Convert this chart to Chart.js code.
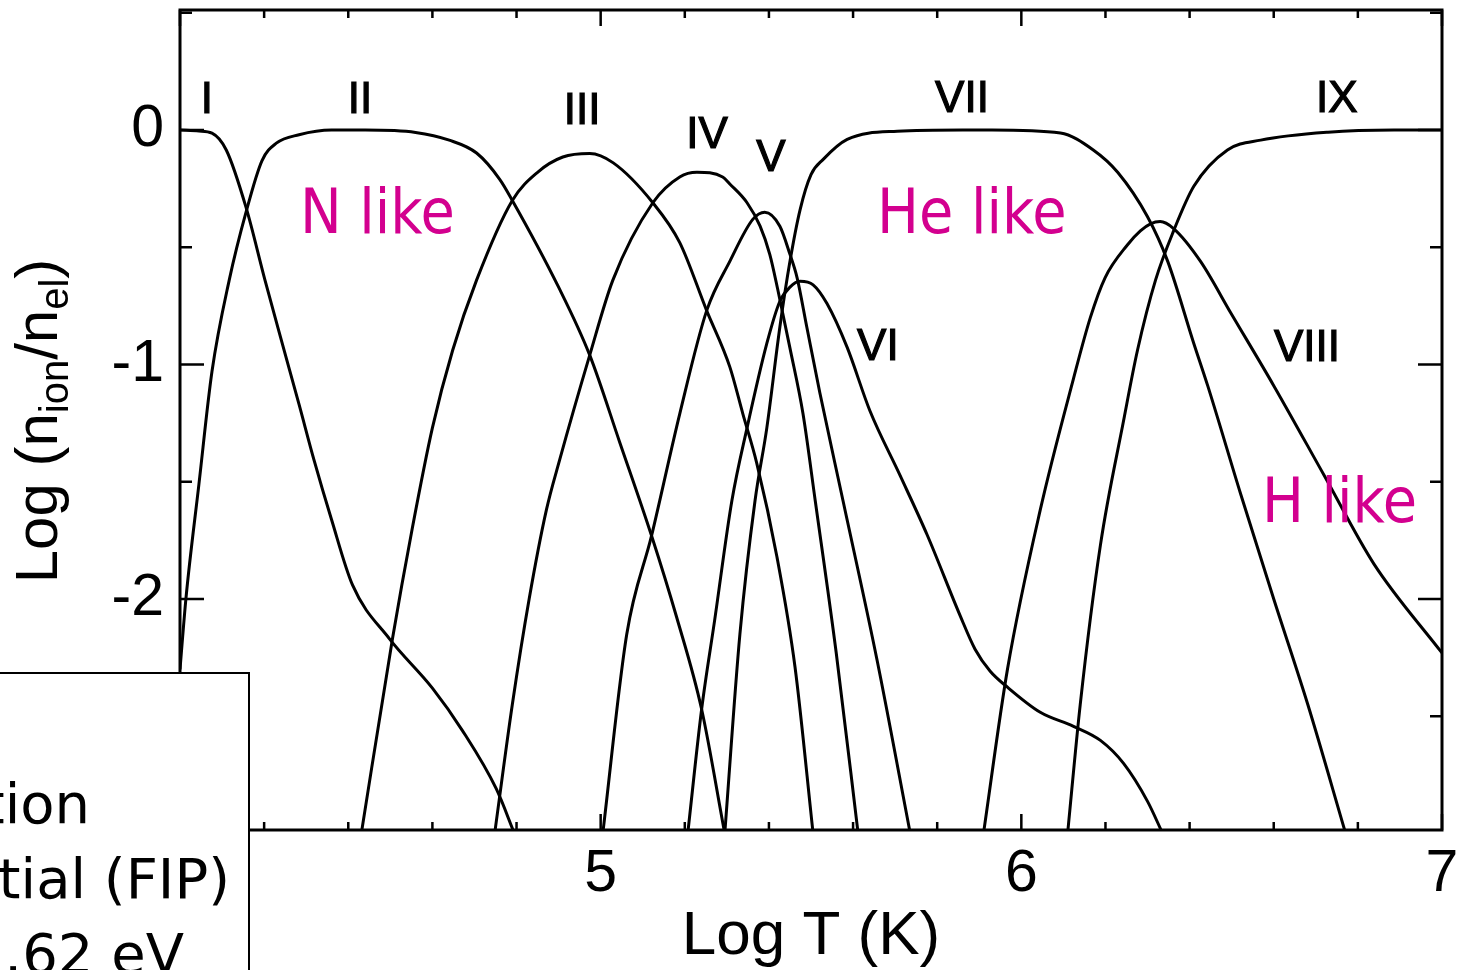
<!DOCTYPE html>
<html>
<head>
<meta charset="utf-8">
<title>Oxygen ionization fractions</title>
<script src="https://cdn.jsdelivr.net/npm/chart.js@4.4.1/dist/chart.umd.min.js"></script>
<style>
    html, body { margin: 0; padding: 0; background: #fff; overflow: hidden; }
    body { width: 1460px; height: 970px; position: relative; }
    #plot { position: absolute; left: 0; top: 0; }
    #fipBox { position: absolute; left: -10px; top: 672px; width: 256px; height: 310px; background: #fff; border: 2px solid #000; }
    .fip { position: absolute; font-family: "DejaVu Sans", sans-serif; font-size: 56px; line-height: 56px; white-space: nowrap; color: #000; }
</style>
</head>
<body>
<canvas id="plot" width="1460" height="970"></canvas>
<div id="fipBox"></div>
<div class="fip" style="right:1370px; top:776px;">First Ionization</div>
<div class="fip" style="right:1230px; top:851px;">Potential (FIP)</div>
<div class="fip" style="right:1276px; top:926px;">13.62 eV</div>

<script>
// ionization stages of oxygen, log T (K) against log(n_ion / n_el)
var stageNames = ['I', 'II', 'III', 'IV', 'V', 'VI', 'VII', 'VIII', 'IX'];

var tempI = [4.00, 4.045, 4.076, 4.11, 4.157, 4.202, 4.243, 4.283, 4.319, 4.36, 4.41, 4.498, 4.60, 4.671, 4.752, 4.795];
var fracI = [0.00, -0.004, -0.013, -0.085, -0.33, -0.64, -0.91, -1.17, -1.41, -1.66, -1.94, -2.17, -2.38, -2.56, -2.81, -3.00];

var tempII = [4.00, 4.014, 4.045, 4.076, 4.117, 4.157, 4.195, 4.229, 4.283, 4.36, 4.44, 4.56, 4.64, 4.705, 4.76, 4.79, 4.90, 4.974, 5.045, 5.121, 5.181, 5.24, 5.295];
var fracII = [-2.30, -2.00, -1.51, -1.03, -0.64, -0.35, -0.13, -0.056, -0.02, 0.00, 0.00, -0.01, -0.043, -0.098, -0.21, -0.30, -0.67, -0.96, -1.33, -1.73, -2.08, -2.47, -3.00];

var tempIII = [4.431, 4.505, 4.552, 4.60, 4.648, 4.705, 4.79, 4.85, 4.91, 4.974, 5.03, 5.124, 5.188, 5.252, 5.307, 5.338, 5.371, 5.419, 5.462, 5.505];
var fracIII = [-3.00, -2.17, -1.70, -1.27, -0.94, -0.64, -0.30, -0.18, -0.115, -0.10, -0.14, -0.31, -0.48, -0.77, -1.01, -1.21, -1.42, -1.82, -2.29, -3.00];

var tempIV = [4.748, 4.79, 4.83, 4.871, 4.902, 4.974, 5.029, 5.124, 5.188, 5.229, 5.29, 5.307, 5.348, 5.379, 5.402, 5.421, 5.45, 5.481, 5.51, 5.56, 5.612];
var fracIV = [-3.00, -2.45, -2.00, -1.62, -1.41, -0.96, -0.64, -0.31, -0.20, -0.18, -0.20, -0.23, -0.31, -0.41, -0.53, -0.68, -0.93, -1.21, -1.58, -2.23, -3.00];

var tempV = [5.005, 5.062, 5.121, 5.188, 5.252, 5.307, 5.362, 5.39, 5.426, 5.45, 5.467, 5.49, 5.521, 5.576, 5.657, 5.736];
var fracV = [-3.00, -2.15, -1.73, -1.21, -0.77, -0.56, -0.38, -0.35, -0.41, -0.53, -0.63, -0.84, -1.12, -1.58, -2.26, -3.00];

var tempVI = [5.207, 5.24, 5.271, 5.312, 5.348, 5.395, 5.426, 5.45, 5.474, 5.505, 5.538, 5.586, 5.64, 5.712, 5.776, 5.855, 5.89, 5.926, 5.967, 6.045, 6.124, 6.188, 6.243, 6.30, 6.336];
var fracVI = [-3.00, -2.47, -2.09, -1.58, -1.27, -0.91, -0.73, -0.67, -0.645, -0.66, -0.74, -0.927, -1.197, -1.474, -1.726, -2.073, -2.214, -2.308, -2.376, -2.483, -2.543, -2.603, -2.701, -2.863, -3.00];

var tempVII = [5.295, 5.331, 5.367, 5.395, 5.426, 5.45, 5.474, 5.50, 5.529, 5.586, 5.705, 5.86, 5.93, 6.093, 6.171, 6.229, 6.30, 6.348, 6.41, 6.443, 6.521, 6.60, 6.681, 6.771];
var fracVII = [-3.00, -2.15, -1.58, -1.27, -0.84, -0.56, -0.34, -0.19, -0.125, -0.04, -0.005, 0.00, 0.00, -0.013, -0.085, -0.18, -0.37, -0.56, -0.91, -1.09, -1.55, -2.00, -2.45, -3.00];

var tempVIII = [5.91, 5.967, 6.045, 6.124, 6.164, 6.199, 6.252, 6.283, 6.307, 6.33, 6.362, 6.426, 6.498, 6.60, 6.719, 6.838, 7.00];
var fracVIII = [-3.00, -2.30, -1.62, -1.06, -0.80, -0.63, -0.49, -0.43, -0.40, -0.39, -0.42, -0.56, -0.78, -1.09, -1.47, -1.85, -2.23];

var tempIX = [6.11, 6.14, 6.188, 6.243, 6.276, 6.319, 6.362, 6.41, 6.49, 6.569, 6.729, 6.886, 7.00];
var fracIX = [-3.00, -2.45, -1.77, -1.24, -0.94, -0.64, -0.43, -0.24, -0.085, -0.043, -0.009, 0.00, 0.00];

var tempTickLabels = [4, 5, 6, 7];
var fracTickLabels = [0, -1, -2];

// where the stage names and sequence names sit, in data units
var stageLabelT = [4.064, 4.428, 4.956, 5.253, 5.405, 5.659, 5.859, 6.679, 6.750];
var stageLabelY = [0.124, 0.124, 0.077, -0.025, -0.123, -0.929, 0.128, -0.934, 0.128];
var seqNames = ['N like', 'He like', 'H like'];
var seqLabelT = [4.285, 5.657, 6.572];
var seqLabelY = [-0.439, -0.439, -1.671];

var temps = [tempI, tempII, tempIII, tempIV, tempV, tempVI, tempVII, tempVIII, tempIX];
var fracs = [fracI, fracII, fracIII, fracIV, fracV, fracVI, fracVII, fracVIII, fracIX];

var datasets = stageNames.map(function (name, i) {
    return {
        label: name,
        data: temps[i].map(function (t, j) { return { x: t, y: fracs[i][j] }; }),
        borderColor: '#000',
        borderWidth: 3,
        pointRadius: 0,
        fill: false,
        cubicInterpolationMode: 'monotone'
    };
});

function isWhole(v) { return Math.abs(v - Math.round(v)) < 1e-6; }

var framePlugin = {
    id: 'frameAndText',
    afterDatasetsDraw: function (chart) {
        var ctx = chart.ctx, a = chart.chartArea;
        var xs = chart.scales.x, ys = chart.scales.y;
        ctx.save();

        // box round the plot
        ctx.strokeStyle = '#000';
        ctx.lineWidth = 3;
        ctx.strokeRect(a.left, a.top, a.right - a.left, a.bottom - a.top);

        // ticks pointing inwards on all four sides
        ctx.lineWidth = 2.5;
        ctx.beginPath();
        var xStep = xs.options.ticks.stepSize;
        for (var v = Math.ceil(xs.min / xStep - 1e-6) * xStep; v <= xs.max + 1e-6; v += xStep) {
            var px = xs.getPixelForValue(v);
            var len = isWhole(v) ? 16 : 8;
            ctx.moveTo(px, a.bottom); ctx.lineTo(px, a.bottom - len);
            ctx.moveTo(px, a.top); ctx.lineTo(px, a.top + len);
        }
        var yStep = ys.options.ticks.stepSize;
        for (var w = Math.ceil(ys.min / yStep - 1e-6) * yStep; w <= ys.max + 1e-6; w += yStep) {
            var py = ys.getPixelForValue(w);
            var ylen = isWhole(w) ? 24 : 12;
            ctx.moveTo(a.left, py); ctx.lineTo(a.left + ylen, py);
            ctx.moveTo(a.right, py); ctx.lineTo(a.right - ylen, py);
        }
        ctx.stroke();

        // stage names, a little heavier like the scanned figure
        ctx.fillStyle = '#000';
        ctx.lineWidth = 1.2;
        ctx.font = '44px "Liberation Sans", Arial, sans-serif';
        ctx.textAlign = 'center';
        ctx.textBaseline = 'middle';
        stageNames.forEach(function (name, i) {
            var sx = xs.getPixelForValue(stageLabelT[i]), sy = ys.getPixelForValue(stageLabelY[i]);
            ctx.fillText(name, sx, sy);
            ctx.strokeText(name, sx, sy);
        });

        // iso-electronic sequence names
        ctx.fillStyle = '#d3008f';
        ctx.font = '62px "DejaVu Sans Condensed", "DejaVu Sans", sans-serif';
        ctx.textAlign = 'left';
        ctx.textBaseline = 'alphabetic';
        seqNames.forEach(function (name, i) {
            ctx.fillText(name, xs.getPixelForValue(seqLabelT[i]), ys.getPixelForValue(seqLabelY[i]));
        });

        // y axis title with subscripts
        var parts = [
            { t: 'Log (n', size: 60, drop: 0 },
            { t: 'ion', size: 40, drop: 11 },
            { t: '/n', size: 60, drop: 0 },
            { t: 'el', size: 40, drop: 11 },
            { t: ')', size: 60, drop: 0 }
        ];
        var total = 0;
        parts.forEach(function (p) {
            ctx.font = p.size + 'px "Liberation Sans", Arial, sans-serif';
            p.w = ctx.measureText(p.t).width;
            total += p.w;
        });
        ctx.translate(57, (a.top + a.bottom) / 2 + 1);
        ctx.rotate(-Math.PI / 2);
        ctx.fillStyle = '#000';
        var cx = -total / 2;
        parts.forEach(function (p) {
            ctx.font = p.size + 'px "Liberation Sans", Arial, sans-serif';
            ctx.fillText(p.t, cx, p.drop);
            cx += p.w;
        });
        ctx.restore();
    }
};

new Chart(document.getElementById('plot'), {
    type: 'line',
    data: { datasets: datasets },
    options: {
        responsive: false,
        animation: false,
        events: [],
        layout: { padding: { left: 0, right: 18, top: 10, bottom: 0 } },
        plugins: {
            legend: { display: false },
            tooltip: { enabled: false }
        },
        scales: {
            x: {
                type: 'linear',
                min: 4,
                max: 7,
                grid: { display: false, drawTicks: false },
                border: { display: false },
                ticks: {
                    stepSize: 0.2,
                    autoSkip: false,
                    maxRotation: 0,
                    padding: 9,
                    color: '#000',
                    font: { family: 'Liberation Sans', size: 59 },
                    callback: function (value) {
                        var r = Math.round(value);
                        return isWhole(value) && tempTickLabels.indexOf(r) >= 0 ? String(r) : '';
                    }
                },
                title: {
                    display: true,
                    text: 'Log T (K)',
                    color: '#000',
                    font: { family: 'Liberation Sans', size: 62, lineHeight: 1 },
                    padding: { top: 0, bottom: 2 }
                },
                afterFit: function (scale) {
                    scale.height = 140;
                    scale.paddingLeft = 0;
                    scale.paddingRight = 0;
                }
            },
            y: {
                type: 'linear',
                min: -2.985,
                max: 0.512,
                grid: { display: false, drawTicks: false },
                border: { display: false },
                ticks: {
                    stepSize: 0.5,
                    autoSkip: false,
                    padding: 16,
                    color: '#000',
                    font: { family: 'Liberation Sans', size: 59 },
                    callback: function (value) {
                        var r = Math.round(value);
                        return isWhole(value) && fracTickLabels.indexOf(r) >= 0 ? String(r) : '';
                    }
                },
                afterFit: function (scale) {
                    scale.width = 180;
                    scale.paddingTop = 0;
                    scale.paddingBottom = 0;
                }
            }
        }
    },
    plugins: [framePlugin]
});
</script>
</body>
</html>
